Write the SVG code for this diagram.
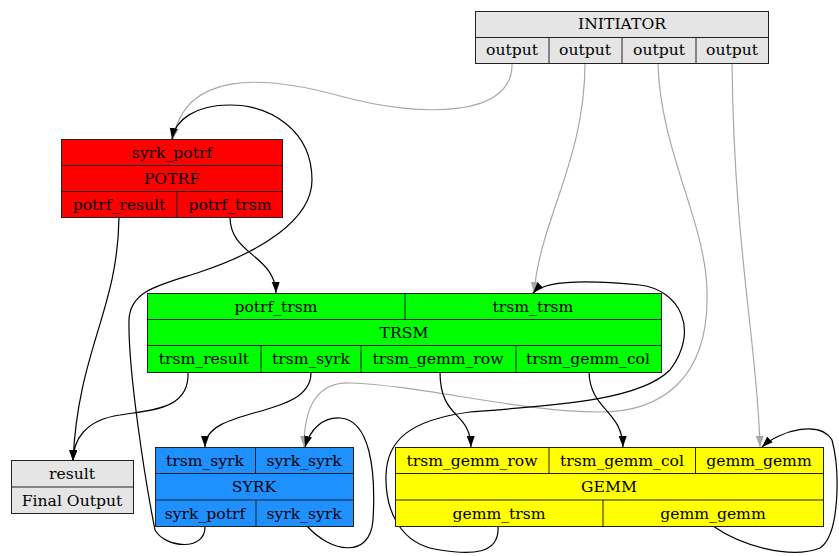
<svg xmlns="http://www.w3.org/2000/svg" width="839" height="556" viewBox="0 0 839 556">
<style>
.box{stroke:#222;stroke-width:1}
.ln{stroke:#222;stroke-width:1;fill:none}
text{font-family:"DejaVu Serif","Liberation Serif",serif;font-size:15.6px;fill:#000;text-anchor:middle}
.e{fill:none;stroke:#000;stroke-width:1.2;marker-end:url(#ab)}
.g{fill:none;stroke:#a8a8a8;stroke-width:1.2;marker-end:url(#ag)}
</style>
<defs>
<marker id="ab" markerUnits="userSpaceOnUse" markerWidth="13" markerHeight="10" refX="11" refY="4" orient="auto"><path d="M0,0 L11,4 L0,8 z" fill="#000"/></marker>
<marker id="ag" markerUnits="userSpaceOnUse" markerWidth="13" markerHeight="10" refX="11" refY="4" orient="auto"><path d="M0,0 L11,4 L0,8 z" fill="#a8a8a8"/></marker>
</defs>
<rect width="839" height="556" fill="#fff"/>
<g id="edges">
<path class="g" d="M512,63 C514,118 420,118 340,96 C260,74 185,72 173,139"/>
<path class="g" d="M585,63 C585,160 540,220 534,293"/>
<path class="g" d="M658,63 C660,150 705,220 707,290 C710,380 660,412 600,412 C520,412 420,385 350,383 C315,382 304,410 304,447"/>
<path class="g" d="M732,63 C734,250 758,350 760,447"/>
<path class="e" d="M119,217 C118,310 78,350 73,461"/>
<path class="e" d="M230,217 C230,255 275,255 276,293"/>
<path class="e" d="M188,372 C190,410 150,410 120,415 C85,420 73,440 73,461"/>
<path class="e" d="M311,372 C312,420 205,405 205,447"/>
<path class="e" d="M440,372 C440,420 470,410 471,447"/>
<path class="e" d="M589,372 C590,410 622,410 623,447"/>
<path class="e" d="M205,526 C206,552 165,548 155,530 C145,480 128,370 129,320 C130,290 160,285 200,272 C260,252 312,220 312,180 C312,130 270,105 230,105 C195,105 175,120 172,139"/>
<path class="e" d="M307,526 C330,552 370,560 373,520 C376,470 370,420 340,418 C322,417 310,430 305,447"/>
<path class="e" d="M498,526 C500,555 470,555 440,550 C400,545 385,510 386,475 C387,440 410,420 470,412 C560,405 640,400 670,370 C700,330 680,290 640,285 C590,280 545,280 533,293"/>
<path class="e" d="M713,526 C740,545 790,560 820,548 C840,535 840,470 832,440 C820,420 780,430 762,447"/>
</g>
<g id="initiator">
<rect class="box" x="475.5" y="11.5" width="293" height="52" fill="#e5e5e5"/>
<path class="ln" d="M475.5,37.5 H768.5 M549,37.5 V63.5 M622,37.5 V63.5 M696,37.5 V63.5"/>
<text x="622" y="29">INITIATOR</text>
<text x="512" y="55">output</text>
<text x="585" y="55">output</text>
<text x="659" y="55">output</text>
<text x="732" y="55">output</text>
</g>
<g id="potrf">
<rect class="box" x="61.5" y="139.5" width="221" height="78" fill="#ff0000"/>
<path class="ln" d="M61.5,165.5 H282.5 M61.5,191.5 H282.5 M177,191.5 V217.5"/>
<text x="172" y="157.5">syrk_potrf</text>
<text x="172" y="183.5">POTRF</text>
<text x="119" y="209.5">potrf_result</text>
<text x="230" y="209.5">potrf_trsm</text>
</g>
<g id="trsm">
<rect class="box" x="147.5" y="293.5" width="514" height="79" fill="#00ff00"/>
<path class="ln" d="M147.5,319.5 H661.5 M147.5,345.5 H661.5 M405,293.5 V319.5 M261,345.5 V372.5 M361,345.5 V372.5 M516,345.5 V372.5"/>
<text x="276" y="311.5">potrf_trsm</text>
<text x="533" y="311.5">trsm_trsm</text>
<text x="404" y="337.5">TRSM</text>
<text x="204" y="363.5">trsm_result</text>
<text x="311" y="363.5">trsm_syrk</text>
<text x="438" y="363.5">trsm_gemm_row</text>
<text x="588" y="363.5">trsm_gemm_col</text>
</g>
<g id="result">
<rect class="box" x="11.5" y="460.5" width="122" height="53" fill="#e5e5e5"/>
<path class="ln" d="M11.5,487 H133.5"/>
<text x="72" y="478.5">result</text>
<text x="72" y="505.5">Final Output</text>
</g>
<g id="syrk">
<rect class="box" x="155.5" y="447.5" width="198" height="79" fill="#1e90ff"/>
<path class="ln" d="M155.5,473.5 H353.5 M155.5,500 H353.5 M255.5,447.5 V473.5 M256,500 V526.5"/>
<text x="205" y="465.5">trsm_syrk</text>
<text x="304" y="465.5">syrk_syrk</text>
<text x="254" y="491.5">SYRK</text>
<text x="205" y="518.5">syrk_potrf</text>
<text x="304" y="518.5">syrk_syrk</text>
</g>
<g id="gemm">
<rect class="box" x="395.5" y="447.5" width="428" height="79" fill="#ffff00"/>
<path class="ln" d="M395.5,473.5 H823.5 M395.5,500 H823.5 M549,447.5 V473.5 M695.5,447.5 V473.5 M603,500 V526.5"/>
<text x="472" y="465.5">trsm_gemm_row</text>
<text x="622" y="465.5">trsm_gemm_col</text>
<text x="759" y="465.5">gemm_gemm</text>
<text x="609" y="491.5">GEMM</text>
<text x="499" y="518.5">gemm_trsm</text>
<text x="713" y="518.5">gemm_gemm</text>
</g>
</svg>
